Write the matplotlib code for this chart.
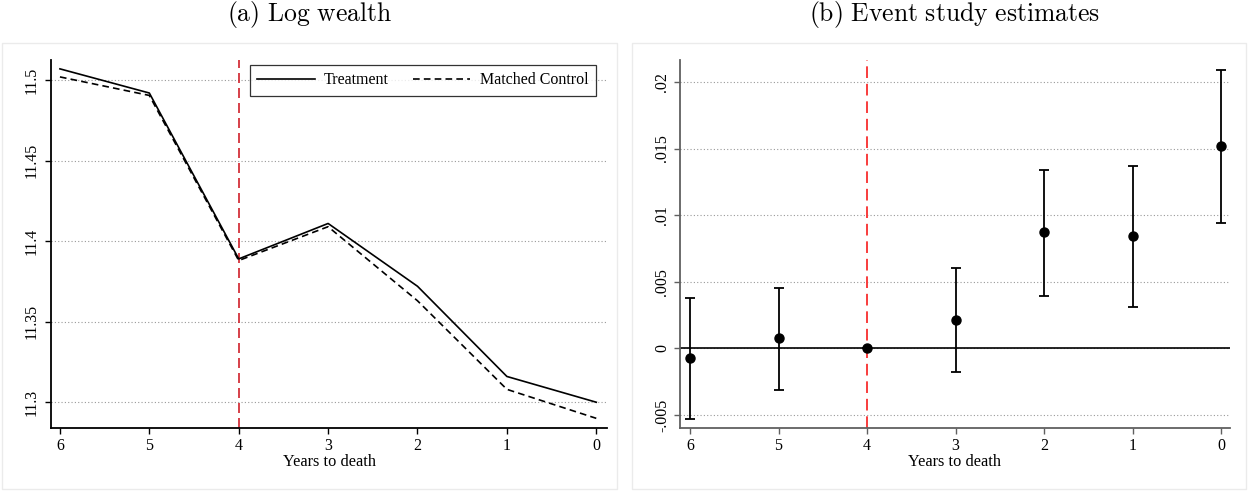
import matplotlib
matplotlib.use("Agg")
import matplotlib.pyplot as plt
from matplotlib.patches import Rectangle

years = [6, 5, 4, 3, 2, 1, 0]
treatment = [11.507, 11.492, 11.389, 11.411, 11.372, 11.316, 11.300]
control = [11.502, 11.4905, 11.388, 11.409, 11.363, 11.308, 11.290]

es_coef = [-0.0007, 0.00075, 0.0, 0.0021, 0.0087, 0.0084, 0.0152]
es_low = [-0.0053, -0.0031, 0.0, -0.0018, 0.0039, 0.0031, 0.0094]
es_high = [0.0038, 0.0045, 0.0, 0.0060, 0.0134, 0.0137, 0.0209]

left_yticks = [11.3, 11.35, 11.4, 11.45, 11.5]
left_ylabels = ["11.3", "11.35", "11.4", "11.45", "11.5"]
right_yticks = [-0.005, 0, 0.005, 0.01, 0.015, 0.02]
right_ylabels = ["-.005", "0", ".005", ".01", ".015", ".02"]

plt.rcParams['font.family'] = ['Liberation Serif', 'DejaVu Serif']
plt.rcParams['mathtext.fontset'] = 'cm'

W, H = 1248, 491
fig = plt.figure(figsize=(W / 100, H / 100), dpi=100)

def px_rect(x0, y0, x1, y1):
    return [x0 / W, 1 - y1 / H, (x1 - x0) / W, (y1 - y0) / H]

# faint panel borders
for (x0, y0, x1, y1) in [(2, 43, 617, 489), (632, 43, 1246, 489)]:
    r = px_rect(x0, y0, x1, y1)
    fig.patches.append(Rectangle((r[0], r[1]), r[2], r[3], transform=fig.transFigure,
                                 fill=False, edgecolor='#ebebeb', lw=1))

def style(ax, spine_color, ypad):
    for s in ['top', 'right']:
        ax.spines[s].set_visible(False)
    for s in ['left', 'bottom']:
        ax.spines[s].set_color(spine_color)
        ax.spines[s].set_linewidth(1.3)
    ax.tick_params(axis='both', direction='out', length=4, width=1, colors=spine_color,
                   labelcolor='black', labelsize=11.5)
    ax.tick_params(axis='x', pad=3)
    ax.tick_params(axis='y', labelrotation=90, pad=ypad)
    for lab in ax.get_yticklabels():
        lab.set_va('center')
    ax.set_xticks(years)
    ax.set_xticklabels([str(y) for y in years])
    ax.set_xlabel("Years to death", fontsize=11.8, labelpad=0)

# Left panel
ax1 = fig.add_axes(px_rect(51, 60, 607, 428))
ax1.set_ylim(11.284, 11.5125)
ax1.set_xlim(6.1, -0.12)
ax1.set_yticks(left_yticks)
ax1.set_yticklabels(left_ylabels)
ax1.grid(axis='y', linestyle=(0, (1, 2)), color='#999999', lw=0.8)
ax1.set_axisbelow(True)
ax1.axvline(4, color='#d0202a', ls=(0, (6, 3)), lw=1.2)
ax1.plot(years, treatment, color='black', lw=1.2, label='Treatment')
ax1.plot(years, control, color='black', lw=1.2, ls=(0, (4, 2.5)), label='Matched Control')
leg = ax1.legend(loc='upper right', ncol=2, fontsize=11.5, frameon=True, fancybox=False,
                 edgecolor='black', handlelength=3.6, handletextpad=0.6, columnspacing=1.5,
                 bbox_to_anchor=(0.980, 0.986), borderaxespad=0, borderpad=0.45)
leg.get_frame().set_linewidth(0.9)
style(ax1, 'black', 4)
fig.text(310 / W, 1 - 15 / H, r'$\mathrm{(a)\ Log\ wealth}$', fontsize=18.5,
         ha='center', va='center')

# Right panel
ax2 = fig.add_axes(px_rect(680, 60, 1230, 428))
ax2.set_ylim(-0.00597, 0.02164)
ax2.set_xlim(6.113, -0.1)
ax2.set_yticks(right_yticks)
ax2.set_yticklabels(right_ylabels)
ax2.grid(axis='y', linestyle=(0, (1, 2)), color='#999999', lw=0.8)
ax2.set_axisbelow(True)
ax2.axhline(0, color='black', lw=1.2)
ax2.axvline(4, color='#f83c3c', ls=(0, (6, 3)), lw=1.4)
yerr = [[c - l for c, l in zip(es_coef, es_low)], [h - c for c, h in zip(es_coef, es_high)]]
ax2.errorbar(years, es_coef, yerr=yerr, fmt='o', color='black', ms=6.5,
             elinewidth=1.3, capsize=3.3, capthick=1.3, zorder=3)
style(ax2, '#606060', 3)
fig.text(955 / W, 1 - 15 / H, r'$\mathrm{(b)\ Event\ study\ estimates}$', fontsize=18.5,
         ha='center', va='center')

fig.savefig("out.png", dpi=100)
